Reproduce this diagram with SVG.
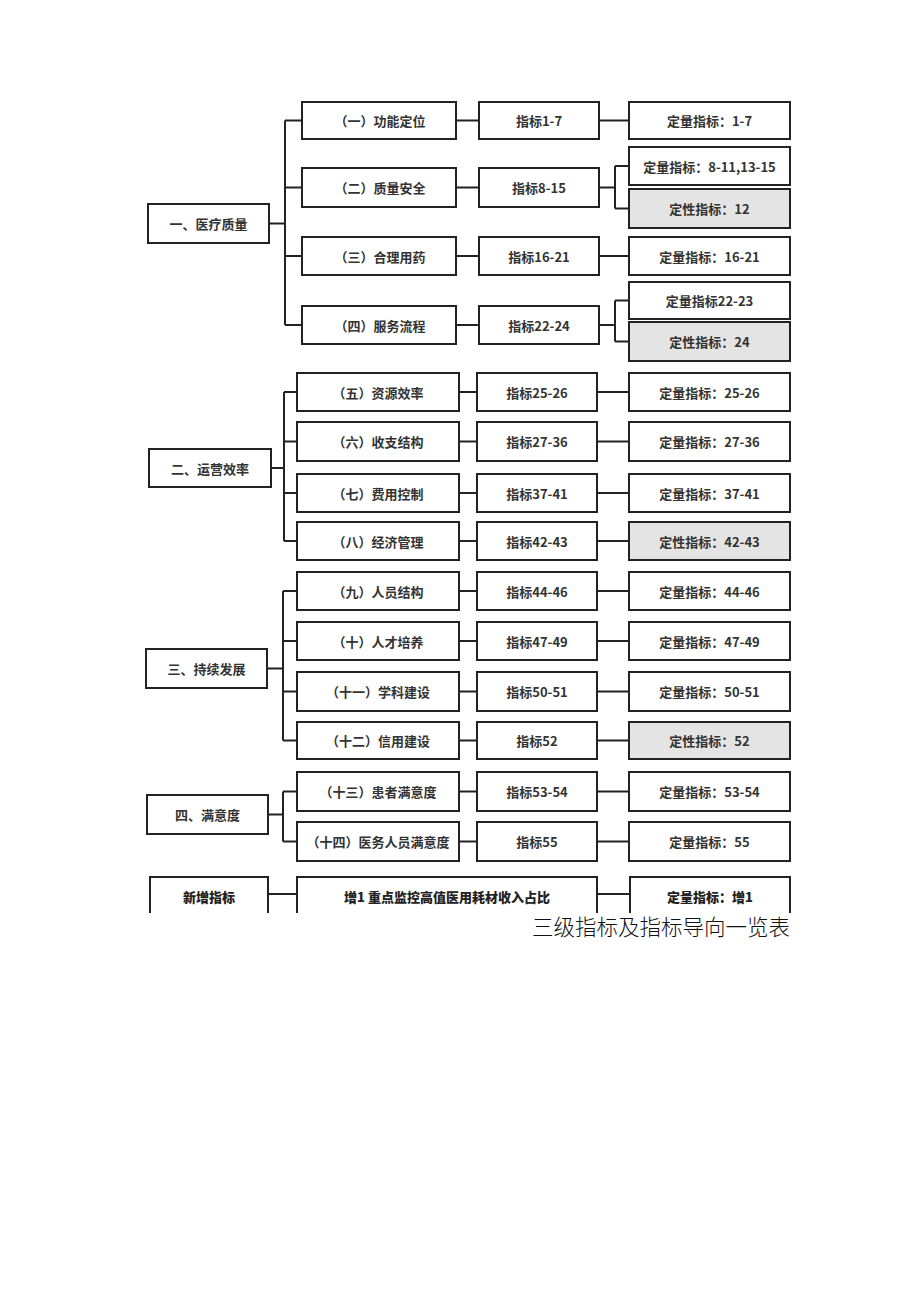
<svg xmlns="http://www.w3.org/2000/svg" width="920" height="1301" viewBox="0 0 920 1301">
<style>
.b{fill:#fff;stroke:#222;stroke-width:2}
.g{fill:#e4e4e4;stroke:#222;stroke-width:2}
.t{font-family:"Noto Sans CJK SC","Noto Sans",sans-serif;font-size:13px;font-weight:bold;fill:#333;text-anchor:middle;dominant-baseline:central}
.tb{font-family:"Noto Sans CJK SC",serif;font-size:13px;font-weight:900;fill:#222;text-anchor:middle;dominant-baseline:central}
.c{fill:none;stroke:#222;stroke-width:2}
.cap{font-family:"Noto Sans CJK SC",serif;font-size:21.5px;font-weight:300;fill:#111;text-anchor:end}
</style>
<rect width="920" height="1301" fill="#fff"/>
<g id="connectors">
<path class="c" d="M269 223.5H285M285 120.5V325M285 120.5H302M285 187.5H302M285 256H302M285 325H302"/>
<path class="c" d="M456 120.5H479M456 187.5H479M456 256H479M456 325H479"/>
<path class="c" d="M599 120.5H629M599 256H629M599 187.5H615M615 166V208.5M615 166H629M615 208.5H629M599 325H615M615 300.5V341.5M615 300.5H629M615 341.5H629"/>
<path class="c" d="M271 468H284M284 392V541M284 392H297M284 441.5H297M284 493H297M284 541H297"/>
<path class="c" d="M459 392H477M459 441.5H477M459 493H477M459 541H477M597 392H629M597 441.5H629M597 493H629M597 541H629"/>
<path class="c" d="M267 668.5H283M283 591V740.5M283 591H297M283 641H297M283 691.5H297M283 740.5H297"/>
<path class="c" d="M459 591H477M459 641H477M459 691.5H477M459 740.5H477M597 591H629M597 641H629M597 691.5H629M597 740.5H629"/>
<path class="c" d="M268 814.5H283M283 791.5V841.5M283 791.5H297M283 841.5H297"/>
<path class="c" d="M459 791.5H477M459 841.5H477M597 791.5H629M597 841.5H629"/>
<path class="c" d="M268 894H297M597 894H630"/>
</g>
<g id="n1"><rect class="b" x="148" y="204" width="121" height="39"/><text class="t" x="208.5" y="223.5">一、医疗质量</text></g>
<g id="n1-1"><rect class="b" x="302" y="102" width="154" height="37"/><text class="t" x="380" y="120.5">（一）功能定位</text></g>
<g id="n1-2"><rect class="b" x="302" y="168" width="154" height="39"/><text class="t" x="380" y="187.5">（二）质量安全</text></g>
<g id="n1-3"><rect class="b" x="302" y="237" width="154" height="38"/><text class="t" x="380" y="256">（三）合理用药</text></g>
<g id="n1-4"><rect class="b" x="302" y="306" width="154" height="38"/><text class="t" x="380" y="325">（四）服务流程</text></g>
<g id="i1"><rect class="b" x="479" y="102" width="120" height="37"/><text class="t" x="539" y="120.5">指标1-7</text></g>
<g id="i2"><rect class="b" x="479" y="168" width="120" height="39"/><text class="t" x="539" y="187.5">指标8-15</text></g>
<g id="i3"><rect class="b" x="479" y="237" width="120" height="38"/><text class="t" x="539" y="256">指标16-21</text></g>
<g id="i4"><rect class="b" x="479" y="306" width="120" height="38"/><text class="t" x="539" y="325">指标22-24</text></g>
<g id="q1"><rect class="b" x="629" y="102" width="161" height="37"/><text class="t" x="709.5" y="120.5">定量指标：1-7</text></g>
<g id="q2a"><rect class="b" x="629" y="147" width="161" height="38"/><text class="t" x="709.5" y="166">定量指标：8-11,13-15</text></g>
<g id="q2b"><rect class="g" x="629" y="189" width="161" height="39"/><text class="t" x="709.5" y="208.5">定性指标：12</text></g>
<g id="q3"><rect class="b" x="629" y="237" width="161" height="38"/><text class="t" x="709.5" y="256">定量指标：16-21</text></g>
<g id="q4a"><rect class="b" x="629" y="282" width="161" height="37"/><text class="t" x="709.5" y="300.5">定量指标22-23</text></g>
<g id="q4b"><rect class="g" x="629" y="322" width="161" height="39"/><text class="t" x="709.5" y="341.5">定性指标：24</text></g>
<g id="n2"><rect class="b" x="149" y="449" width="122" height="38"/><text class="t" x="210" y="468">二、运营效率</text></g>
<g id="n2-5"><rect class="b" x="297" y="373" width="162" height="38"/><text class="t" x="378" y="392">（五）资源效率</text></g>
<g id="n2-6"><rect class="b" x="297" y="422" width="162" height="39"/><text class="t" x="378" y="441.5">（六）收支结构</text></g>
<g id="n2-7"><rect class="b" x="297" y="474" width="162" height="38"/><text class="t" x="378" y="493">（七）费用控制</text></g>
<g id="n2-8"><rect class="b" x="297" y="522" width="162" height="38"/><text class="t" x="378" y="541">（八）经济管理</text></g>
<g id="i5"><rect class="b" x="477" y="373" width="120" height="38"/><text class="t" x="537" y="392">指标25-26</text></g>
<g id="i6"><rect class="b" x="477" y="422" width="120" height="39"/><text class="t" x="537" y="441.5">指标27-36</text></g>
<g id="i7"><rect class="b" x="477" y="474" width="120" height="38"/><text class="t" x="537" y="493">指标37-41</text></g>
<g id="i8"><rect class="b" x="477" y="522" width="120" height="38"/><text class="t" x="537" y="541">指标42-43</text></g>
<g id="q5"><rect class="b" x="629" y="373" width="161" height="38"/><text class="t" x="709.5" y="392">定量指标：25-26</text></g>
<g id="q6"><rect class="b" x="629" y="422" width="161" height="39"/><text class="t" x="709.5" y="441.5">定量指标：27-36</text></g>
<g id="q7"><rect class="b" x="629" y="474" width="161" height="38"/><text class="t" x="709.5" y="493">定量指标：37-41</text></g>
<g id="q8"><rect class="g" x="629" y="522" width="161" height="38"/><text class="t" x="709.5" y="541">定性指标：42-43</text></g>
<g id="n3"><rect class="b" x="146" y="649" width="121" height="39"/><text class="t" x="206.5" y="668.5">三、持续发展</text></g>
<g id="n3-9"><rect class="b" x="297" y="572" width="162" height="38"/><text class="t" x="378" y="591">（九）人员结构</text></g>
<g id="n3-10"><rect class="b" x="297" y="622" width="162" height="38"/><text class="t" x="378" y="641">（十）人才培养</text></g>
<g id="n3-11"><rect class="b" x="297" y="672" width="162" height="39"/><text class="t" x="378" y="691.5">（十一）学科建设</text></g>
<g id="n3-12"><rect class="b" x="297" y="722" width="162" height="37"/><text class="t" x="378" y="740.5">（十二）信用建设</text></g>
<g id="i9"><rect class="b" x="477" y="572" width="120" height="38"/><text class="t" x="537" y="591">指标44-46</text></g>
<g id="i10"><rect class="b" x="477" y="622" width="120" height="38"/><text class="t" x="537" y="641">指标47-49</text></g>
<g id="i11"><rect class="b" x="477" y="672" width="120" height="39"/><text class="t" x="537" y="691.5">指标50-51</text></g>
<g id="i12"><rect class="b" x="477" y="722" width="120" height="37"/><text class="t" x="537" y="740.5">指标52</text></g>
<g id="q9"><rect class="b" x="629" y="572" width="161" height="38"/><text class="t" x="709.5" y="591">定量指标：44-46</text></g>
<g id="q10"><rect class="b" x="629" y="622" width="161" height="38"/><text class="t" x="709.5" y="641">定量指标：47-49</text></g>
<g id="q11"><rect class="b" x="629" y="672" width="161" height="39"/><text class="t" x="709.5" y="691.5">定量指标：50-51</text></g>
<g id="q12"><rect class="g" x="629" y="722" width="161" height="37"/><text class="t" x="709.5" y="740.5">定性指标：52</text></g>
<g id="n4"><rect class="b" x="147" y="795" width="121" height="39"/><text class="t" x="207.5" y="814.5">四、满意度</text></g>
<g id="n4-13"><rect class="b" x="297" y="772" width="162" height="39"/><text class="t" x="378" y="791.5">（十三）患者满意度</text></g>
<g id="n4-14"><rect class="b" x="297" y="822" width="162" height="39"/><text class="t" x="378" y="841.5">（十四）医务人员满意度</text></g>
<g id="i13"><rect class="b" x="477" y="772" width="120" height="39"/><text class="t" x="537" y="791.5">指标53-54</text></g>
<g id="i14"><rect class="b" x="477" y="822" width="120" height="39"/><text class="t" x="537" y="841.5">指标55</text></g>
<g id="q13"><rect class="b" x="629" y="772" width="161" height="39"/><text class="t" x="709.5" y="791.5">定量指标：53-54</text></g>
<g id="q14"><rect class="b" x="629" y="822" width="161" height="39"/><text class="t" x="709.5" y="841.5">定量指标：55</text></g>
<g id="new"><path class="c" d="M150 913V877H268V913"/><text class="tb" x="209" y="896">新增指标</text></g>
<g id="new-i"><path class="c" d="M297 913V877H597V913"/><text class="tb" x="447" y="896">增1 重点监控高值医用耗材收入占比</text></g>
<g id="new-q"><path class="c" d="M630 913V877H790V913"/><text class="tb" x="710" y="896">定量指标：增1</text></g>
<text class="cap" x="790" y="935">三级指标及指标导向一览表</text>
</svg>
